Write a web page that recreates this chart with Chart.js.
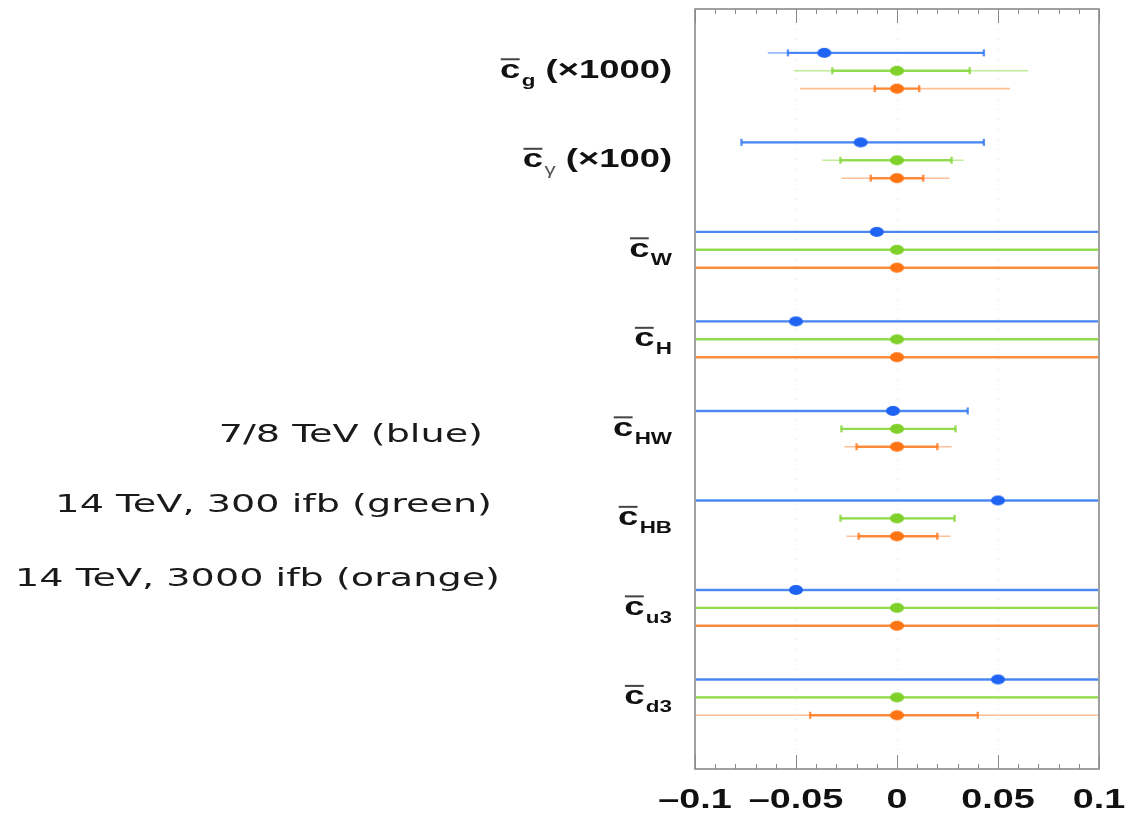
<!DOCTYPE html>
<html>
<head>
<meta charset="utf-8">
<script src="https://cdn.jsdelivr.net/npm/chart.js@4.4.1/dist/chart.umd.min.js"></script>
<style>
  html, body { margin: 0; padding: 0; background: #fff; }
  #wrap { position: relative; width: 1129px; height: 815px; }
</style>
</head>
<body>
<div id="wrap"><canvas id="fit"></canvas></div>
<script>
// coefficient rows, top to bottom
const ROWS = ["g", "γ", "W", "H", "HW", "HB", "u3", "d3"];
const ROW_SUFFIX = [" (×1000)", " (×100)", "", "", "", "", "", ""];
const X_TICKS = [-0.1, -0.05, 0, 0.05, 0.1];
const X_TICK_LABELS = ["–0.1", "–0.05", "0", "0.05", "0.1"];
const LEGEND = ["7/8 TeV (blue)", "14 TeV, 300 ifb (green)", "14 TeV, 3000 ifb (orange)"];

// best fit and limits per row; ±1 means the band runs past the plotted range
const blueCentral = [-0.036, -0.018, -0.010, -0.050, -0.002, 0.050, -0.050, 0.050];
const blueLo68 = [-0.054, -0.077, -1, -1, -1, -1, -1, -1];
const blueHi68 = [0.043, 0.043, 1, 1, 0.035, 1, 1, 1];
const blueLo95 = [-0.064, -0.077, -1, -1, -1, -1, -1, -1];
const blueHi95 = [0.043, 0.043, 1, 1, 0.035, 1, 1, 1];

const greenCentral = [0, 0, 0, 0, 0, 0, 0, 0];
const greenLo68 = [-0.032, -0.028, -1, -1, -0.0275, -0.028, -1, -1];
const greenHi68 = [0.036, 0.027, 1, 1, 0.029, 0.0285, 1, 1];
const greenLo95 = [-0.051, -0.037, -1, -1, -0.0275, -0.028, -1, -1];
const greenHi95 = [0.065, 0.033, 1, 1, 0.029, 0.0285, 1, 1];

const orangeCentral = [0, 0, 0, 0, 0, 0, 0, 0];
const orangeLo68 = [-0.011, -0.013, -1, -1, -0.020, -0.019, -1, -0.043];
const orangeHi68 = [0.011, 0.013, 1, 1, 0.020, 0.020, 1, 0.040];
const orangeLo95 = [-0.048, -0.0275, -1, -1, -0.026, -0.025, -1, -1];
const orangeHi95 = [0.056, 0.026, 1, 1, 0.027, 0.0265, 1, 1];

const ROW_STEP = 5;   // y units between coefficient groups
const TEXT_SX = 1.4;  // horizontal stretch of the bold labels

function dot(color) {
  const c = document.createElement("canvas");
  c.width = 16; c.height = 12;
  const g = c.getContext("2d");
  g.fillStyle = color;
  g.beginPath();
  g.ellipse(8, 6, 7, 5, 0, 0, Math.PI * 2);
  g.fill();
  return c;
}

function centrals(vals, off) {
  return vals.map((v, i) => ({ x: v, y: i * ROW_STEP + off }));
}

function segments(lo, hi, off) {
  const pts = [];
  lo.forEach((l, i) => {
    const y = i * ROW_STEP + off;
    pts.push({ x: l, y }, { x: hi[i], y }, { x: null, y: null });
  });
  return pts;
}

function series(name, off, cols, c, lo68, hi68, lo95, hi95) {
  return [
    {
      label: name, data: centrals(c, off), order: 0,
      pointStyle: dot(cols.dot), pointRadius: 6, pointHoverRadius: 6,
    },
    {
      label: name + " 68%", data: segments(lo68, hi68, off), order: 1,
      showLine: true, spanGaps: false, borderColor: cols.line, borderWidth: 2.4,
      pointStyle: "line", rotation: 90, pointRadius: 3.5, pointBorderWidth: 2.4,
      pointBorderColor: cols.line, pointBackgroundColor: cols.line,
    },
    {
      label: name + " 95%", data: segments(lo95, hi95, off), order: 2,
      showLine: true, spanGaps: false, borderColor: cols.faint, borderWidth: 1.6,
      pointRadius: 0,
    },
  ];
}

const datasets = [
  ...series("blue", -1, { dot: "#1f63f2", line: "rgba(50,120,240,0.8)", faint: "rgba(70,135,245,0.55)" },
    blueCentral, blueLo68, blueHi68, blueLo95, blueHi95),
  ...series("green", 0, { dot: "#7fd12a", line: "rgba(135,215,60,0.85)", faint: "rgba(150,225,80,0.6)" },
    greenCentral, greenLo68, greenHi68, greenLo95, greenHi95),
  ...series("orange", 1, { dot: "#ff7412", line: "rgba(255,125,35,0.85)", faint: "rgba(255,150,80,0.6)" },
    orangeCentral, orangeLo68, orangeHi68, orangeLo95, orangeHi95),
];

function stretchedText(ctx, text, x, y, sx, align) {
  const w = ctx.measureText(text).width * sx;
  const left = align === "right" ? x - w : align === "center" ? x - w / 2 : x;
  ctx.save();
  ctx.translate(left, y);
  ctx.scale(sx, 1);
  ctx.fillText(text, 0, 0);
  ctx.restore();
}

function rowLabel(ctx, right, base, sub, suffix) {
  const mainFont = 'bold 26px "Liberation Sans", Arial, sans-serif';
  const subFont = (sub === "γ" ? "" : "bold ") + '16px "Liberation Sans", Arial, sans-serif';
  ctx.font = mainFont;
  const wc = ctx.measureText("c").width;
  const wsuf = ctx.measureText(suffix).width;
  ctx.font = subFont;
  const wsub = ctx.measureText(sub).width;
  const total = wc + 1 + wsub + wsuf;
  ctx.save();
  ctx.translate(right - total * TEXT_SX, base);
  ctx.scale(TEXT_SX, 1);
  ctx.fillStyle = "#111";
  ctx.font = mainFont;
  ctx.fillText("c", 0, 0);
  ctx.fillStyle = "#444";
  ctx.fillRect(0.5, -19.5, wc - 1, 2);
  ctx.fillStyle = sub === "γ" ? "#555" : "#111";
  ctx.font = subFont;
  ctx.fillText(sub, wc + 1, 8);
  ctx.fillStyle = "#111";
  ctx.font = mainFont;
  ctx.fillText(suffix, wc + 1 + wsub, 0);
  ctx.restore();
}

const decorations = {
  id: "decorations",
  beforeDraw(chart) {
    const ctx = chart.ctx;
    ctx.save();
    ctx.fillStyle = "#fff";
    ctx.fillRect(0, 0, chart.width, chart.height);
    ctx.restore();
  },
  afterDraw(chart) {
    const { ctx, chartArea: a, scales: { x, y } } = chart;
    ctx.save();

    // frame
    ctx.strokeStyle = "#a0a0a0";
    ctx.lineWidth = 2;
    ctx.lineJoin = "round";
    ctx.strokeRect(a.left, a.top, a.right - a.left, a.bottom - a.top);

    // inward ticks, long at every 0.05
    ctx.strokeStyle = "#8a8a8a";
    ctx.lineWidth = 1;
    x.ticks.forEach((t) => {
      const px = Math.round(x.getPixelForValue(t.value)) + 0.5;
      const major = Math.abs(t.value * 20 - Math.round(t.value * 20)) < 1e-6;
      const len = major ? 14 : 5;
      ctx.beginPath();
      ctx.moveTo(px, a.top);
      ctx.lineTo(px, a.top + len);
      ctx.moveTo(px, a.bottom);
      ctx.lineTo(px, a.bottom - len);
      ctx.stroke();
    });

    // x tick labels
    ctx.fillStyle = "#111";
    ctx.font = 'bold 27px "Liberation Sans", Arial, sans-serif';
    ctx.textBaseline = "alphabetic";
    X_TICKS.forEach((v, i) => {
      stretchedText(ctx, X_TICK_LABELS[i], x.getPixelForValue(v), a.bottom + 39, TEXT_SX, "center");
    });

    // coefficient names
    ROWS.forEach((sub, i) => {
      rowLabel(ctx, a.left - 23, y.getPixelForValue(i * ROW_STEP) + 7, sub, ROW_SUFFIX[i]);
    });

    // run descriptions
    ctx.fillStyle = "#1a1a1a";
    ctx.font = '25px "DejaVu Sans", sans-serif';
    const sx = 485 / ctx.measureText(LEGEND[2]).width;
    const rights = [483, 492, 500];
    const bases = [442, 512, 586];
    LEGEND.forEach((s, i) => stretchedText(ctx, s, rights[i], bases[i], sx, "right"));

    ctx.restore();
  },
};

new Chart(document.getElementById("fit"), {
  type: "scatter",
  data: { datasets },
  plugins: [decorations],
  options: {
    responsive: true,
    maintainAspectRatio: false,
    animation: false,
    layout: { padding: { left: 695, right: 30, top: 9, bottom: 46 } },
    plugins: { legend: { display: false }, tooltip: { enabled: false } },
    scales: {
      x: {
        type: "linear",
        min: -0.1,
        max: 0.1,
        ticks: { display: false, stepSize: 0.01 },
        border: { display: false, dash: [1, 9] },
        grid: {
          drawTicks: false,
          color: (c) => {
            const v = c.tick ? c.tick.value : 1;
            const major = Math.abs(v * 20 - Math.round(v * 20)) < 1e-6;
            return major && Math.abs(v) < 0.09 ? "rgba(0,0,0,0.12)" : "rgba(0,0,0,0)";
          },
        },
      },
      y: {
        type: "linear",
        display: false,
        reverse: true,
        min: -3.45,
        max: 39,
      },
    },
  },
});
</script>
</body>
</html>
